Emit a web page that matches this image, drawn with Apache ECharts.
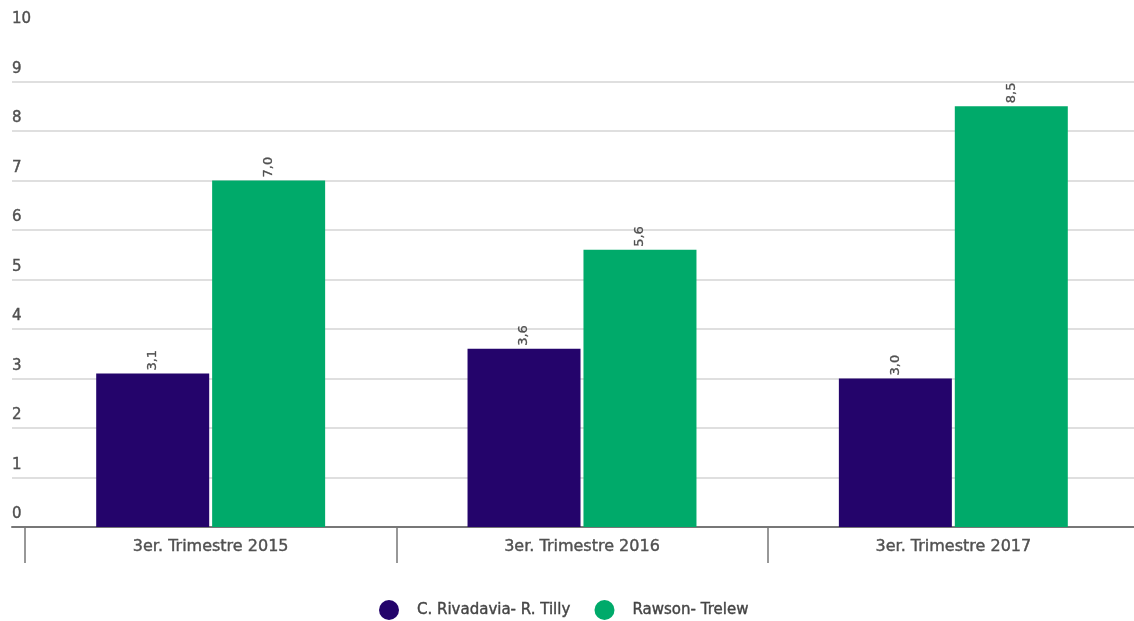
<!DOCTYPE html>
<html>
<head>
<meta charset="utf-8">
<script src="https://cdn.jsdelivr.net/npm/echarts@6/dist/echarts.min.js"></script>
<style>html,body{margin:0;padding:0;background:#fff;overflow:hidden;width:1134px;height:621px}#c{width:1139px;height:621px}</style>
</head>
<body>
<div id="c"></div>
<script>
var categories = ['3er. Trimestre 2015', '3er. Trimestre 2016', '3er. Trimestre 2017'];
var seriesNames = ['C. Rivadavia- R. Tilly', 'Rawson- Trelew'];
var rivadavia = [3.1, 3.6, 3.0];
var rawson = [7.0, 5.6, 8.5];
var yTicks = [0, 1, 2, 3, 4, 5, 6, 7, 8, 9, 10];

var chart = echarts.init(document.getElementById('c'), null, {renderer: 'canvas'});
var font = '"DejaVu Sans", Verdana, sans-serif';
var txt = '#505050';
var gridColors = yTicks.map(function (v, i) { return i === yTicks.length - 1 ? 'rgba(0,0,0,0)' : '#d4d4d4'; });

function fmt(p) { return p.value.toFixed(1).replace('.', ','); }

chart.setOption({
  animation: false,
  textStyle: {fontFamily: font},
  grid: [
    {left: 12, right: 5, top: 32, bottom: 94},
    {left: 25, right: 0, top: 32, bottom: 94}
  ],
  legend: {
    top: 600,
    left: 379,
    padding: 0,
    icon: 'circle',
    itemWidth: 20,
    itemHeight: 20,
    itemGap: 24,
    data: seriesNames,
    textStyle: {fontFamily: font, fontSize: 15, color: '#454545', textBorderColor: '#454545', textBorderWidth: 0.4, padding: [0, 0, 0, 13]}
  },
  xAxis: [
    {
      type: 'value', gridIndex: 0, min: 0, max: 1,
      axisLine: {show: true, onZero: false, lineStyle: {color: '#777', width: 2}},
      axisLabel: {show: false}, axisTick: {show: false}, splitLine: {show: false}
    },
    {
      type: 'category', gridIndex: 1, data: categories,
      axisLine: {show: false},
      axisTick: {show: true, length: 36, lineStyle: {color: '#777', width: 1.5}},
      axisLabel: {fontFamily: font, fontSize: 16, color: txt, textBorderColor: txt, textBorderWidth: 0.4, margin: 12},
      splitLine: {show: false}
    }
  ],
  yAxis: [
    {
      type: 'value', gridIndex: 0, min: 0, max: 10, interval: 1,
      axisLine: {show: false}, axisTick: {show: false},
      axisLabel: {
        inside: true, margin: 0, align: 'left', verticalAlign: 'bottom',
        padding: [0, 0, 5, 0],
        fontFamily: font, fontSize: 15, color: txt, textBorderColor: txt, textBorderWidth: 0.4
      },
      splitLine: {show: true, lineStyle: {color: gridColors, width: 1.5}}
    },
    {
      type: 'value', gridIndex: 1, min: 0, max: 10, interval: 1,
      axisLine: {show: false}, axisTick: {show: false},
      axisLabel: {show: false}, splitLine: {show: false}
    }
  ],
  series: [
    {
      name: seriesNames[0], type: 'bar', xAxisIndex: 1, yAxisIndex: 1,
      data: rivadavia, barWidth: 113, barGap: '2.6%',
      itemStyle: {color: '#24046b'},
      label: {
        show: true, position: 'top', rotate: 90, align: 'left', verticalAlign: 'middle',
        distance: 3, fontFamily: font, fontSize: 13, color: txt, textBorderColor: txt, textBorderWidth: 0.3, formatter: fmt
      }
    },
    {
      name: seriesNames[1], type: 'bar', xAxisIndex: 1, yAxisIndex: 1,
      data: rawson, barWidth: 113, barGap: '2.6%',
      itemStyle: {color: '#00aa6a'},
      label: {
        show: true, position: 'top', rotate: 90, align: 'left', verticalAlign: 'middle',
        distance: 3, fontFamily: font, fontSize: 13, color: txt, textBorderColor: txt, textBorderWidth: 0.3, formatter: fmt
      }
    }
  ]
});
</script>
</body>
</html>
